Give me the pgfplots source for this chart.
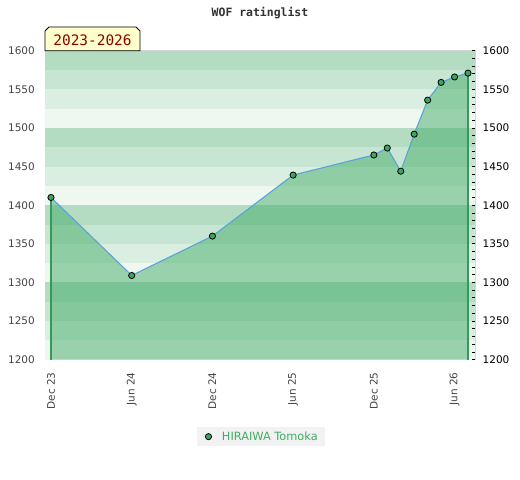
\documentclass[border=0pt]{standalone}
\usepackage{fontspec}
\setmainfont{DejaVu Sans}
\newfontfamily\monofont{DejaVu Sans Mono}
\usepackage{pgfplots}
\pgfplotsset{compat=1.18}
\definecolor{bandA}{HTML}{B3DCC3}
\definecolor{bandB}{HTML}{C6E5D2}
\definecolor{bandC}{HTML}{DBEEE2}
\definecolor{bandD}{HTML}{EFF7F1}
\definecolor{fillgreen}{RGB}{59,168,97}
\definecolor{edgegreen}{HTML}{359A57}
\definecolor{markgreen}{HTML}{3AA65E}
\definecolor{leggreen}{HTML}{3CAF64}
\definecolor{legbg}{HTML}{F2F2F2}
\definecolor{linblue}{HTML}{5BA3D9}
\definecolor{axgray}{HTML}{D4D4D4}
\definecolor{labgray}{HTML}{444444}
\definecolor{boxyellow}{HTML}{FFFFCC}
\definecolor{boxred}{HTML}{8B0000}
\definecolor{titlegray}{HTML}{333333}
\begin{document}
\begin{tikzpicture}
\path[use as bounding box] (0bp,0bp) rectangle (520bp,480bp);
\fill[white] (0bp,0bp) rectangle (520bp,480bp);
\begin{axis}[
  at={(45bp,120.3bp)}, anchor=south west,
  scale only axis, width=430bp, height=309bp,
  xmin=-0.446, xmax=31.52, ymin=1200, ymax=1600,
  axis line style={draw=axgray, line width=1bp},
  tick style={draw=none},
  ytick={1200,1250,...,1600},
  xtick={0,6,12,18,24,30},
  xticklabels={Dec 23,Jun 24,Dec 24,Jun 25,Dec 25,Jun 26},
  /pgf/number format/assume math mode=true,
  /pgf/number format/1000 sep={},
  yticklabel style={font=\fontsize{10.5}{12}\selectfont, text=labgray, inner sep=0pt, anchor=east, xshift=-10bp},
  xticklabel style={font=\fontsize{10.5}{12}\selectfont, text=labgray, inner sep=0pt, rotate=90, anchor=east, xshift=-12.6bp},
  legend style={at={(0.5023,-0.249)}, anchor=center, fill=legbg, draw=none,
    font=\fontsize{11.4}{13}\selectfont, text=leggreen, inner xsep=5.3bp, inner ysep=2.3bp,
    /tikz/every odd column/.style={column sep=8bp}},
  legend image code/.code={\path[draw=none] (-6.2bp,0bp) -- (3.2bp,0bp);
    \draw[fill=markgreen, draw=black, line width=0.8bp] (0bp,0bp) circle (3.1bp);},
]
% background bands
\pgfplotsinvokeforeach{1200,1300,1400,1500}{
  \fill[bandD] (axis cs:-1,#1) rectangle (axis cs:32,#1+25);
  \fill[bandC] (axis cs:-1,#1+25) rectangle (axis cs:32,#1+50);
  \fill[bandB] (axis cs:-1,#1+50) rectangle (axis cs:32,#1+75);
  \fill[bandA] (axis cs:-1,#1+75) rectangle (axis cs:32,#1+100);
}
\addplot[forget plot, draw=none, fill=fillgreen, fill opacity=0.47] coordinates {
(0,1410) (6,1309) (12,1360) (18,1439) (24,1465) (25,1474) (26,1444) (27,1492) (28,1536) (29,1559) (30,1566) (31,1571)
} \closedcycle;
\addplot[forget plot, draw=edgegreen, line width=1.1bp] coordinates {(0,1200) (0,1410)};
\addplot[forget plot, draw=edgegreen, line width=1.1bp] coordinates {(31,1200) (31,1571)};
\addplot[forget plot, draw=linblue, line width=1.1bp, mark=*, mark size=3.1bp,
  mark options={fill=markgreen, draw=black, line width=0.8bp}] coordinates {
(0,1410) (6,1309) (12,1360) (18,1439) (24,1465) (25,1474) (26,1444) (27,1492) (28,1536) (29,1559) (30,1566) (31,1571)
};
\addlegendimage{only marks}
\addlegendentry{HIRAIWA Tomoka}
\end{axis}
\begin{axis}[
  at={(45bp,120.3bp)}, anchor=south west,
  scale only axis, width=430bp, height=309bp,
  xmin=-0.446, xmax=31.52, ymin=1200, ymax=1600,
  axis x line=none, axis y line*=right,
  y axis line style={draw=none},
  ytick={1200,1250,...,1600},
  minor ytick={1200,1210,...,1600},
  tick align=inside,
  major tick length=3bp, minor tick length=3bp,
  tick style={draw=black, line width=0.8bp},
  /pgf/number format/assume math mode=true,
  /pgf/number format/1000 sep={},
  yticklabel style={font=\fontsize{10.5}{12}\selectfont, text=black, inner sep=0pt, anchor=west, xshift=7.5bp},
]
\addplot[draw=none] coordinates {(0,1200)};
\end{axis}
\node[font=\monofont\bfseries\fontsize{11.5}{13}\selectfont, text=titlegray] at (260bp,467bp) {WOF ratinglist};
\draw[fill=boxyellow, draw=black, line width=0.8bp] (45bp,429.3bp) -- (45bp,449bp) -- (49bp,453bp) -- (136bp,453bp) -- (140bp,449bp) -- (140bp,429.3bp) -- cycle;
\node[font=\monofont\fontsize{14.5}{16}\selectfont, text=boxred] at (92.5bp,440bp) {2023-2026};
\end{tikzpicture}
\end{document}
